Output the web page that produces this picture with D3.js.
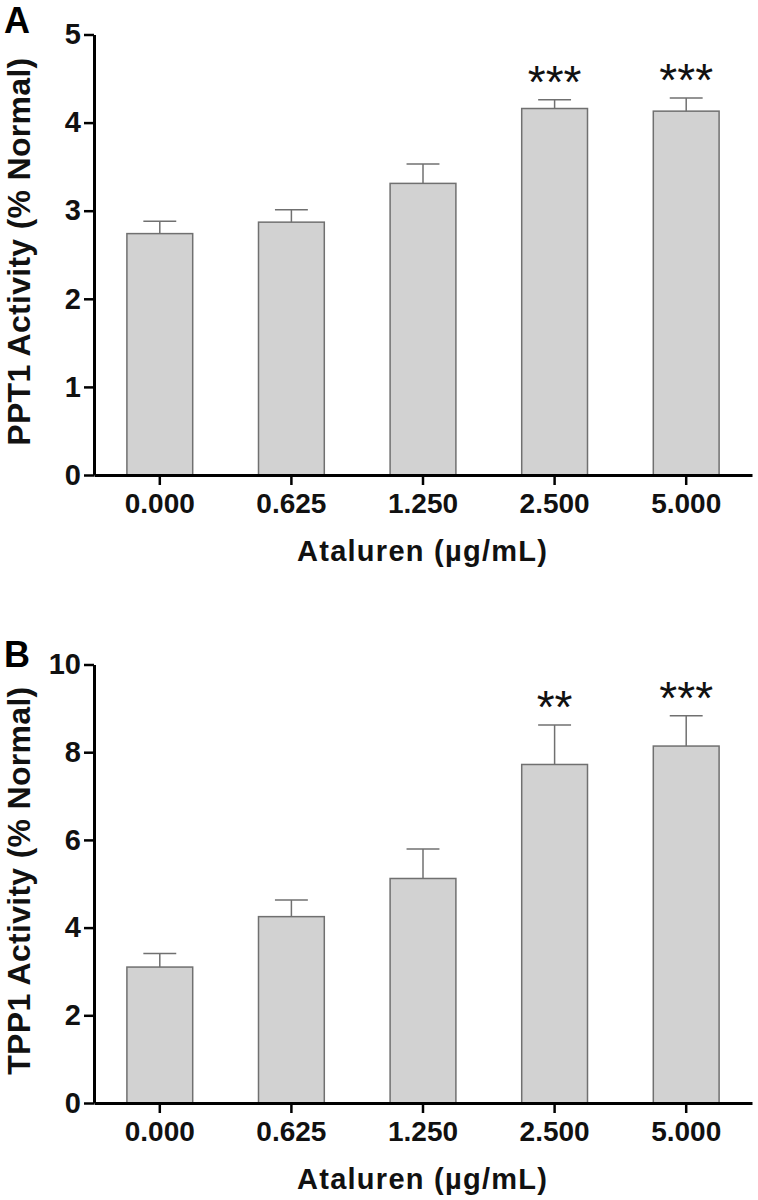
<!DOCTYPE html>
<html>
<head>
<meta charset="utf-8">
<script src="https://cdn.jsdelivr.net/npm/d3@7"></script>
<style>
  html, body { margin: 0; padding: 0; background: #fff; }
  svg { display: block; }
  text { font-family: "Liberation Sans", Arial, Helvetica, sans-serif; }
</style>
</head>
<body>
<svg id="chart" width="758" height="1200"></svg>
<script>
// ---- Data ----
const categories = ["0.000", "0.625", "1.250", "2.500", "5.000"];
const xTitle = "Ataluren (\u00b5g/mL)";

const ppt1Means = [2.74, 2.87, 3.31, 4.16, 4.13];
const ppt1Err   = [0.14, 0.14, 0.22, 0.10, 0.15];
const ppt1Sig   = ["", "", "", "***", "***"];
const ppt1Ticks = [0, 1, 2, 3, 4, 5];

const tpp1Means = [3.10, 4.25, 5.12, 7.72, 8.14];
const tpp1Err   = [0.31, 0.38, 0.67, 0.90, 0.69];
const tpp1Sig   = ["", "", "", "**", "***"];
const tpp1Ticks = [0, 2, 4, 6, 8, 10];

const panels = [
  { letter: "A", yLabel: "PPT1 Activity (% Normal)", means: ppt1Means, errs: ppt1Err, sig: ppt1Sig,
    ticks: ppt1Ticks, yMax: 5, top: 34.5, bottom: 475, letterY: 33 },
  { letter: "B", yLabel: "TPP1 Activity (% Normal)", means: tpp1Means, errs: tpp1Err, sig: tpp1Sig,
    ticks: tpp1Ticks, yMax: 10, top: 664.5, bottom: 1103, letterY: 667 }
];

const svg = d3.select("#chart");
const axisX0 = 94, axisX1 = 752;
const barFill = "#d2d2d2", barStroke = "#707070";

panels.forEach(p => {
  const g = svg.append("g");
  const y = d3.scaleLinear().domain([0, p.yMax]).range([p.bottom, p.top]);
  const x = d3.scaleBand().domain(categories).range([axisX0, axisX1])
    .paddingInner(0.5).paddingOuter(0.25);

  const data = categories.map((c, i) => ({ c, m: p.means[i], e: p.errs[i], s: p.sig[i] }));

  // bars
  g.selectAll("rect.bar").data(data).enter().append("rect")
    .attr("class", "bar")
    .attr("x", d => x(d.c))
    .attr("width", x.bandwidth())
    .attr("y", d => y(d.m))
    .attr("height", d => y(0) - y(d.m))
    .attr("fill", barFill)
    .attr("stroke", barStroke)
    .attr("stroke-width", 1.5);

  // error bars (upper only)
  const cx = d => x(d.c) + x.bandwidth() / 2;
  g.selectAll("line.err").data(data).enter().append("line")
    .attr("x1", cx).attr("x2", cx)
    .attr("y1", d => y(d.m)).attr("y2", d => y(d.m + d.e))
    .attr("stroke", barStroke).attr("stroke-width", 1.5);
  g.selectAll("line.cap").data(data).enter().append("line")
    .attr("x1", d => cx(d) - x.bandwidth() / 4).attr("x2", d => cx(d) + x.bandwidth() / 4)
    .attr("y1", d => y(d.m + d.e)).attr("y2", d => y(d.m + d.e))
    .attr("stroke", barStroke).attr("stroke-width", 1.5);

  // significance stars
  g.selectAll("text.sig").data(data.filter(d => d.s)).enter().append("text")
    .attr("x", cx)
    .attr("y", d => y(d.m + d.e) - 2)
    .attr("text-anchor", "middle")
    .attr("font-size", 46)
    .attr("fill", "#111")
    .text(d => d.s);

  // y axis
  const yAxis = d3.axisLeft(y).tickValues(p.ticks).tickFormat(d3.format("d"))
    .tickSize(10).tickPadding(3).tickSizeOuter(0);
  const ya = g.append("g").attr("transform", `translate(${axisX0},0)`).call(yAxis);
  ya.select(".domain").attr("stroke", "#000").attr("stroke-width", 3);
  ya.selectAll(".tick line").attr("stroke", "#000").attr("stroke-width", 2.5);
  ya.selectAll(".tick text").attr("font-size", 29).attr("font-weight", "bold")
    .attr("fill", "#111").attr("font-family", "Liberation Sans, Arial, sans-serif");

  // x axis
  const xAxis = d3.axisBottom(x).tickSize(10).tickPadding(8).tickSizeOuter(0);
  const xa = g.append("g").attr("transform", `translate(0,${p.bottom})`).call(xAxis);
  xa.select(".domain").attr("stroke", "#000").attr("stroke-width", 3);
  xa.selectAll(".tick line").attr("stroke", "#000").attr("stroke-width", 2.5);
  xa.selectAll(".tick text").attr("font-size", 28).attr("font-weight", "bold")
    .attr("fill", "#111").attr("font-family", "Liberation Sans, Arial, sans-serif");

  // x title
  g.append("text")
    .attr("x", 422)
    .attr("y", p.bottom + 86)
    .attr("text-anchor", "middle")
    .attr("font-size", 29).attr("font-weight", "bold").attr("fill", "#111")
    .attr("textLength", 250).attr("lengthAdjust", "spacing")
    .text(xTitle);

  // y title
  g.append("text")
    .attr("transform", `translate(30,${(p.top + p.bottom) / 2 - 3}) rotate(-90)`)
    .attr("text-anchor", "middle")
    .attr("font-size", 32).attr("font-weight", "bold").attr("fill", "#111")
    .attr("textLength", 388).attr("lengthAdjust", "spacing")
    .text(p.yLabel);

  // panel letter
  g.append("text")
    .attr("x", 4).attr("y", p.letterY)
    .attr("font-size", 36).attr("font-weight", "bold").attr("fill", "#000")
    .text(p.letter);
});
</script>
</body>
</html>
